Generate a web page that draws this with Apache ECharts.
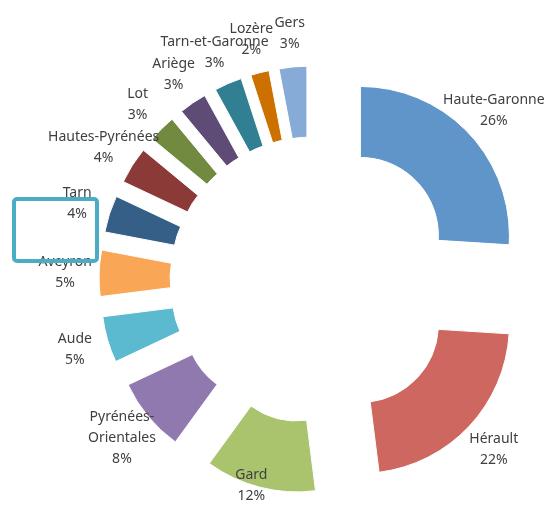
<!DOCTYPE html>
<html>
<head>
<meta charset="utf-8">
<script src="https://cdn.jsdelivr.net/npm/echarts@6/dist/echarts.min.js"></script>
<style>
html,body{margin:0;padding:0;background:#fff;}
#chart{width:556px;height:509px;}
</style>
</head>
<body>
<div id="chart"></div>
<script>
const categories = ['Haute-Garonne','Hérault','Gard','Pyrénées-\nOrientales','Aude','Aveyron','Tarn','Hautes-Pyrénées','Lot','Ariège','Tarn-et-Garonne','Lozère','Gers'];
const values = [26, 22, 12, 8, 5, 5, 4, 4, 3, 3, 3, 2, 3];
const colors = ['#5F95C9','#CD6760','#A9C46C','#9079AE','#5BBAD0','#F9A656','#365F87','#8B3A37','#718A3F','#5E4C77','#307F92','#CC7000','#86ABD6'];

const W = 556, H = 509;
const sliceData = categories.map((c, i) => ({name: c, value: values[i], selected: true, itemStyle: {color: colors[i]}}));
const labelData = categories.map((c, i) => ({name: c, value: values[i]}));

const chart = echarts.init(document.getElementById('chart'), null, {renderer: 'canvas'});
chart.setOption({
  animation: false,
  backgroundColor: '#ffffff',
  series: [
    {
      type: 'pie',
      center: ['56.3%', '55%'],
      radius: [78, 149],
      startAngle: 90,
      selectedMode: 'multiple',
      selectedOffset: 65,
      silent: true,
      itemStyle: {borderColor: '#ffffff', borderWidth: 1},
      label: {show: false},
      labelLine: {show: false},
      emphasis: {disabled: true},
      data: sliceData
    },
    {
      type: 'pie',
      center: ['56.3%', '55%'],
      radius: [236, 254],
      startAngle: 90,
      silent: true,
      itemStyle: {color: 'rgba(0,0,0,0)'},
      emphasis: {disabled: true},
      labelLine: {show: false},
      label: {
        show: true,
        position: 'inside',
        formatter: '{b}\n{c}%',
        color: '#404040',
        fontFamily: 'Noto Sans',
        fontSize: 14,
        lineHeight: 21,
        align: 'center'
      },
      labelLayout: function (p) {
        const r = p.labelRect;
        let dx = 0, dy = 0;
        if (r.y + r.height > H - 2) dy = (H - 2) - (r.y + r.height);
        if (r.y < 6) dy = 6 - r.y;
        if (r.x + r.width > W - 2) dx = (W - 2) - (r.x + r.width);
        if (r.x < 2) dx = 2 - r.x;
        return {dx: dx, dy: dy};
      },
      data: labelData
    }
  ],
  graphic: [
    {
      type: 'rect',
      z: 100,
      shape: {x: 14, y: 199, width: 83, height: 62, r: 3},
      style: {fill: 'none', stroke: '#4BACC6', lineWidth: 4}
    }
  ]
});
</script>
</body>
</html>
